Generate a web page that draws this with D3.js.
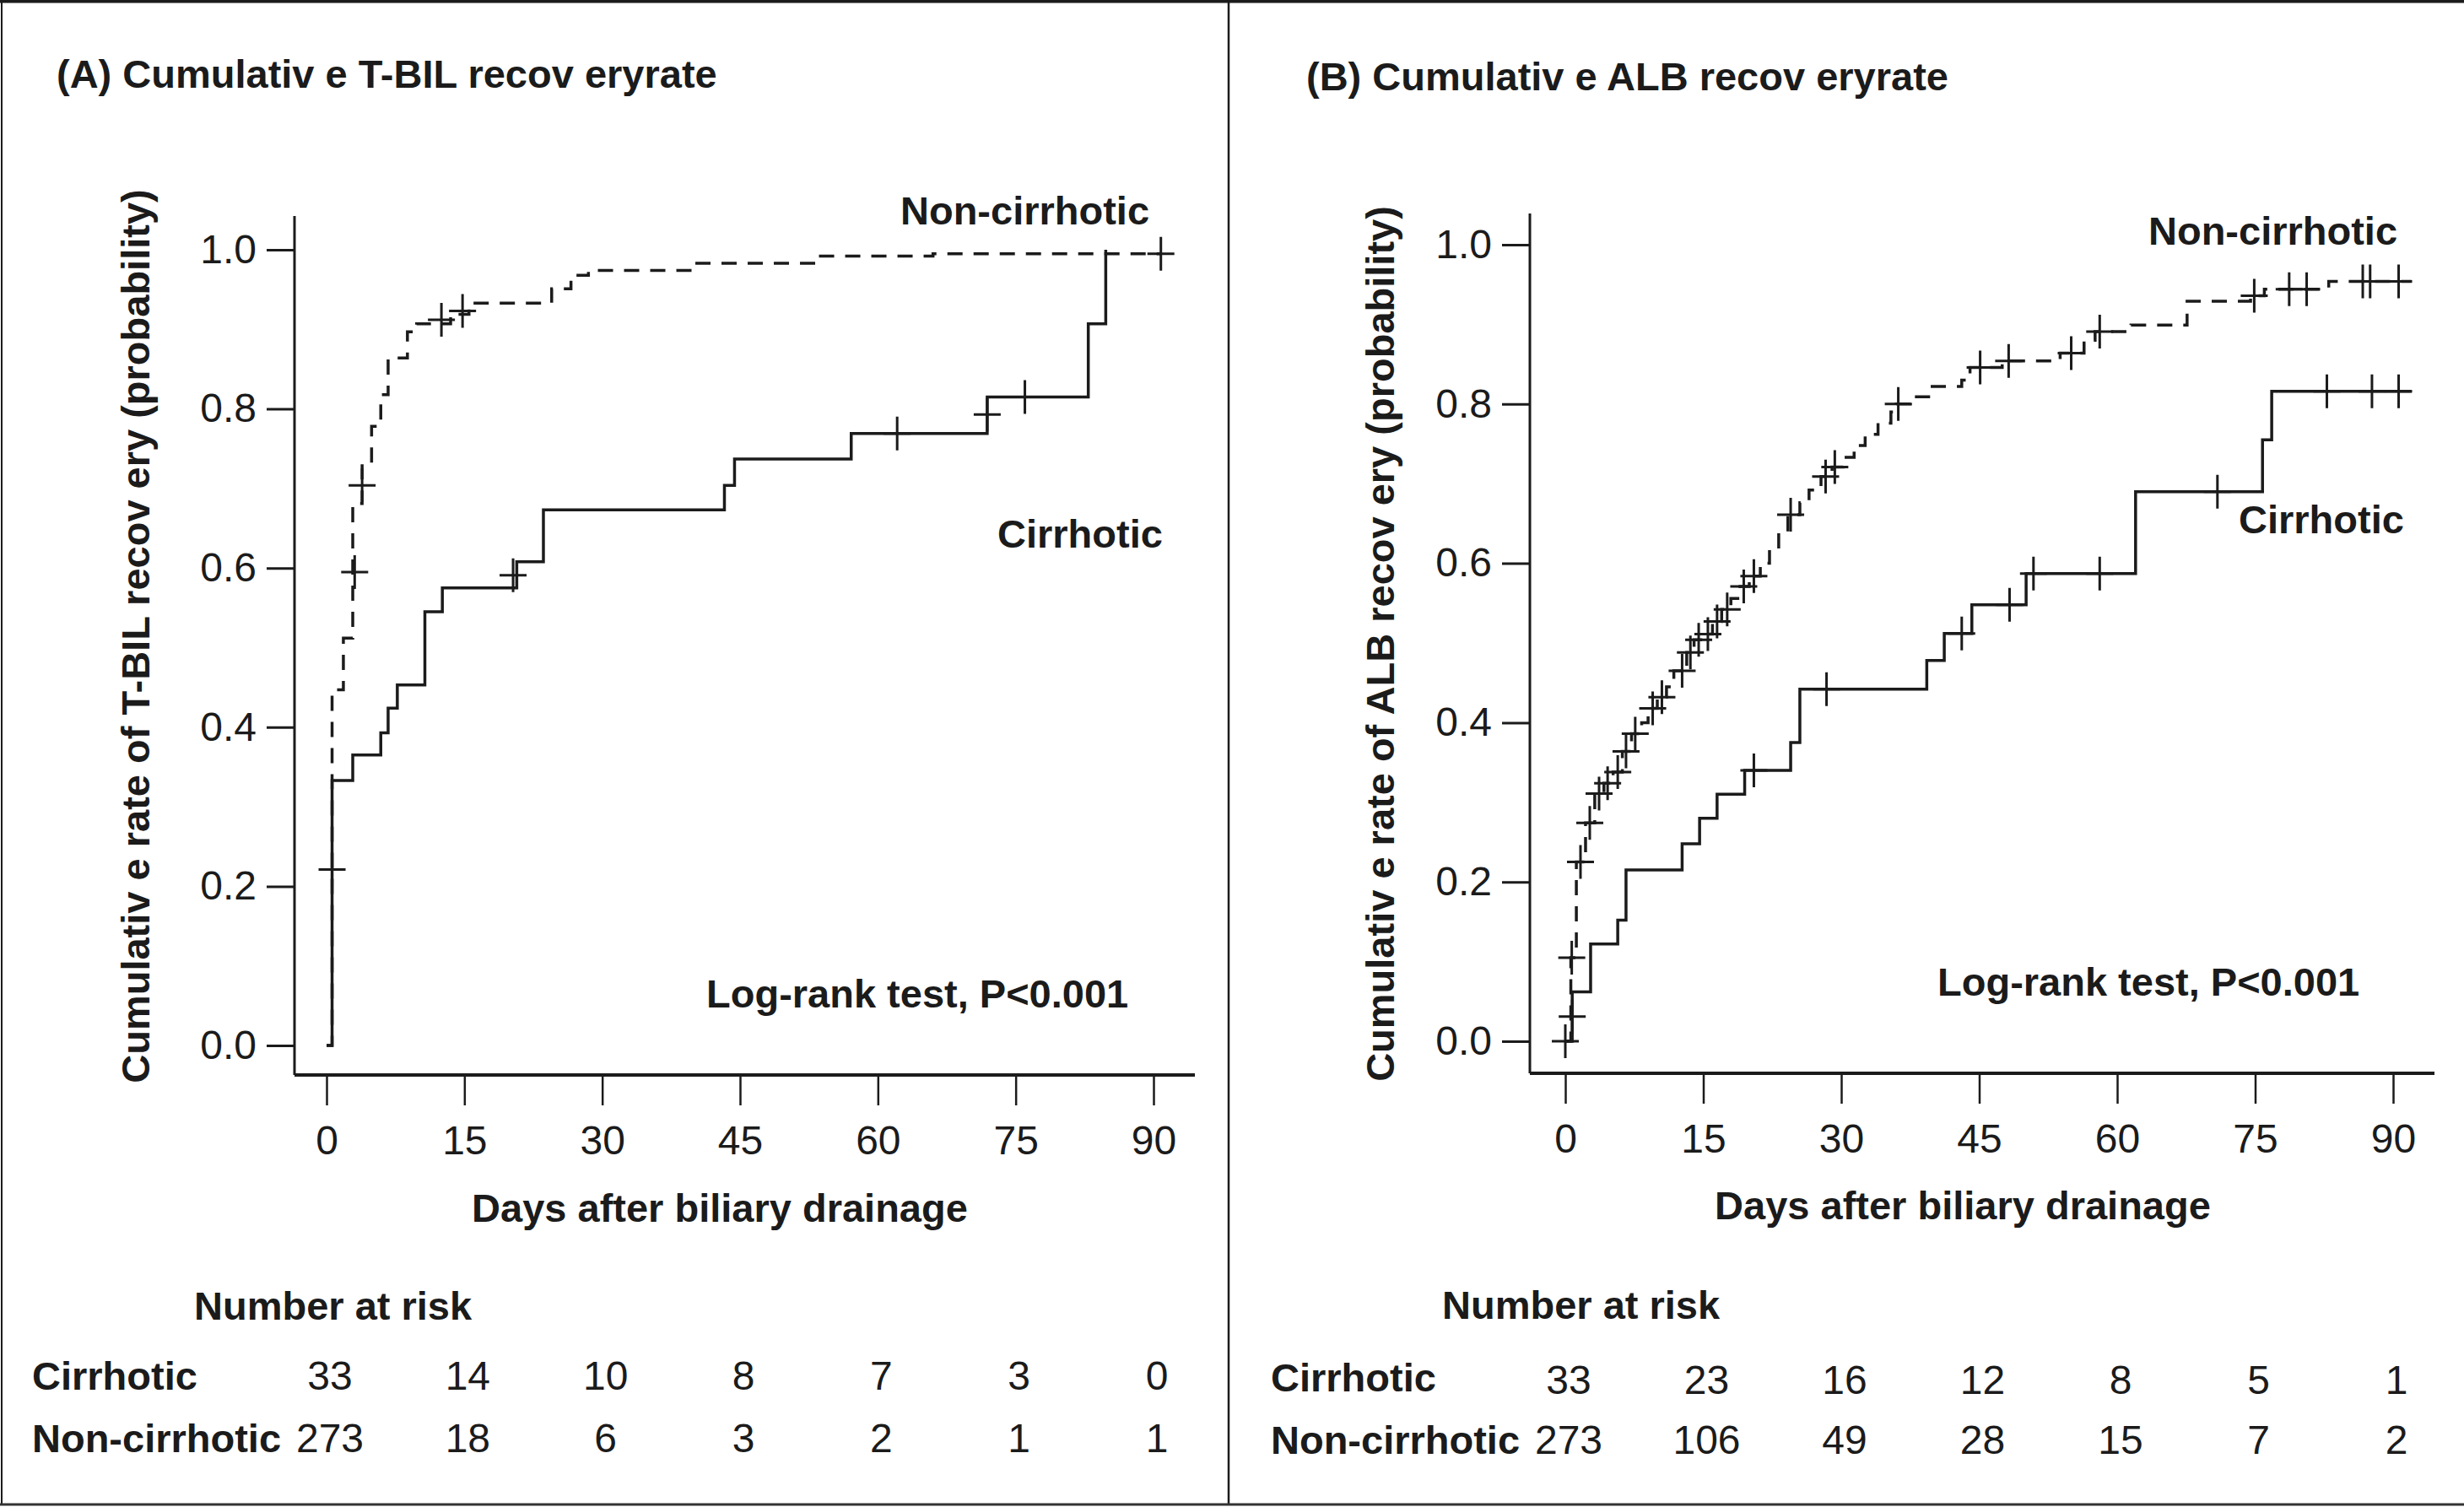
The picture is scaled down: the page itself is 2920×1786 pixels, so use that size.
<!DOCTYPE html>
<html>
<head>
<meta charset="utf-8">
<script src="https://cdn.jsdelivr.net/npm/d3@7"></script>
<style>
  body { margin: 0; background: #fff; }
  svg { display: block; font-family: "Liberation Sans", Arial, Helvetica, sans-serif; }
</style>
</head>
<body>
<svg id="chart" width="2920" height="1786" viewBox="0 0 2920 1786"></svg>
<script>
// ---- data ----
const tickDays = [0, 15, 30, 45, 60, 75, 90];
const yTicks = [0, 0.2, 0.4, 0.6, 0.8, 1.0];
const groups = ["Cirrhotic", "Non-cirrhotic"];

// (A) T-BIL, [day, cumulative rate]
const tbilCirrSteps = [[0,0],[0.6,0.333],[2.85,0.365],[5.9,0.393],[6.7,0.424],[7.7,0.453],[10.7,0.545],
  [12.6,0.575],[20.7,0.608],[23.6,0.673],[43.3,0.704],[44.4,0.737],[57.1,0.769],[71.9,0.815],
  [82.9,0.907],[84.8,1.0],[84.8,1.0]];
const tbilCirrCensor = [[0.6,0.221],[20.3,0.591],[62.1,0.769],[71.9,0.793],[76.0,0.815]];
const tbilNonSteps = [[0,0],[0.6,0.447],[1.83,0.512],[2.85,0.681],[3.87,0.731],[4.9,0.778],[5.9,0.818],
  [6.7,0.864],[8.8,0.897],[9.8,0.907],[13.5,0.919],[15.5,0.933],[24.5,0.951],[26.6,0.968],
  [28.5,0.974],[40.1,0.983],[53.2,0.992],[66.0,0.995],[90.8,0.995]];
const tbilNonCensor = [[3.06,0.595],[3.87,0.704],[12.5,0.912],[14.8,0.923],[90.8,0.995]];
const tbilRiskCirr = [33, 14, 10, 8, 7, 3, 0];
const tbilRiskNon = [273, 18, 6, 3, 2, 1, 1];

// (B) ALB
const albCirrSteps = [[0,0],[0.75,0.062],[2.75,0.122],[5.7,0.152],[6.6,0.215],[12.7,0.248],[14.6,0.280],
  [16.5,0.310],[19.5,0.340],[24.5,0.375],[25.5,0.442],[39.3,0.478],[41.2,0.512],[44.2,0.548],
  [50.1,0.587],[62.0,0.690],[75.8,0.755],[76.8,0.816],[92.0,0.816]];
const albCirrCensor = [[0,0],[0.75,0.031],[20.5,0.340],[28.4,0.442],[43.1,0.512],[48.3,0.548],
  [50.9,0.587],[58.1,0.587],[70.9,0.690],[82.8,0.816],[87.7,0.816],[90.6,0.816]];
const albNonSteps = [[0,0],[0.6,0.105],[1.2,0.225],[2.2,0.274],[3.2,0.311],[4.2,0.324],[5.2,0.338],
  [6.2,0.364],[7.2,0.386],[8.3,0.400],[9.0,0.418],[10.0,0.432],[11.0,0.445],[11.8,0.465],[13.2,0.488],
  [14.0,0.504],[15.0,0.511],[16.0,0.527],[17.0,0.542],[18.0,0.556],[19.0,0.571],[20.0,0.584],
  [21.2,0.600],[22.2,0.618],[23.2,0.640],[24.2,0.661],[25.5,0.676],[26.5,0.692],[27.8,0.709],
  [29.0,0.721],[30.2,0.733],[31.4,0.748],[32.6,0.762],[34.0,0.776],[35.4,0.790],[36.0,0.800],
  [37.5,0.809],[39.5,0.822],[43.1,0.830],[44.0,0.846],[47.5,0.854],[53.8,0.864],[56.4,0.880],
  [57.6,0.891],[61.5,0.899],[67.6,0.929],[74.5,0.936],[76.0,0.944],[83.0,0.954],[92.0,0.954]];
const albNonCensor = [[0.7,0.105],[1.65,0.225],[2.66,0.274],[3.67,0.311],[4.6,0.324],[5.7,0.338],
  [6.6,0.364],[7.6,0.386],[9.5,0.418],[10.5,0.432],[12.7,0.465],[13.6,0.488],[14.5,0.504],[15.5,0.511],
  [16.5,0.527],[17.6,0.542],[19.4,0.571],[20.5,0.584],[24.5,0.661],[28.3,0.709],[29.3,0.721],
  [36.2,0.800],[45.1,0.846],[48.2,0.854],[55.0,0.864],[58.1,0.891],[74.9,0.936],[78.7,0.944],
  [80.6,0.944],[86.7,0.954],[87.5,0.954],[90.6,0.954]];
const albRiskCirr = [33, 23, 16, 12, 8, 5, 1];
const albRiskNon = [273, 106, 49, 28, 15, 7, 2];

const ink = "#1b1b1b";
const svg = d3.select("#chart");

// frame
svg.append("rect").attr("width", 2920).attr("height", 1786).attr("fill", "#fff");
svg.append("line").attr("x1", 0).attr("x2", 2920).attr("y1", 1.5).attr("y2", 1.5)
    .attr("stroke", ink).attr("stroke-width", 4);
svg.append("line").attr("x1", 2).attr("x2", 2).attr("y1", 0).attr("y2", 1784)
    .attr("stroke", ink).attr("stroke-width", 2);
svg.append("line").attr("x1", 1456).attr("x2", 1456).attr("y1", 0).attr("y2", 1784)
    .attr("stroke", ink).attr("stroke-width", 2.5);
svg.append("line").attr("x1", 0).attr("x2", 2920).attr("y1", 1783).attr("y2", 1783)
    .attr("stroke", "#333").attr("stroke-width", 3);

function drawPanel(p) {
  const x = d3.scaleLinear().domain([0, 90]).range(p.xRange);
  const y = d3.scaleLinear().domain([0, 1]).range(p.yRange);
  const g = svg.append("g");

  // title
  g.append("text").attr("x", p.titleX).attr("y", p.titleY)
      .attr("font-size", 47).attr("font-weight", "bold").attr("fill", ink)
      .text(p.title);

  // y axis
  const yAxis = g.append("g").attr("transform", "translate(" + p.axisX + ",0)")
      .call(d3.axisLeft(y).tickValues(yTicks).tickSize(33).tickPadding(12)
        .tickFormat(d3.format(".1f")));
  yAxis.select(".domain").remove();
  yAxis.selectAll(".tick line").attr("stroke", ink).attr("stroke-width", 3);
  yAxis.selectAll(".tick text").attr("font-size", 48).attr("fill", ink)
      .attr("font-family", "Liberation Sans, Arial, sans-serif");
  g.append("line").attr("x1", p.axisX).attr("x2", p.axisX)
      .attr("y1", p.axisTop).attr("y2", p.axisY)
      .attr("stroke", ink).attr("stroke-width", 3);

  // x axis
  const xAxis = g.append("g").attr("transform", "translate(0," + p.axisY + ")")
      .call(d3.axisBottom(x).tickValues(tickDays).tickSize(36).tickPadding(24));
  xAxis.select(".domain").remove();
  xAxis.selectAll(".tick line").attr("stroke", ink).attr("stroke-width", 2.5);
  xAxis.selectAll(".tick text").attr("font-size", 48).attr("fill", ink)
      .attr("font-family", "Liberation Sans, Arial, sans-serif");
  g.append("line").attr("x1", p.axisX).attr("x2", p.axisRight)
      .attr("y1", p.axisY).attr("y2", p.axisY)
      .attr("stroke", ink).attr("stroke-width", 4);

  // axis titles
  g.append("text")
      .attr("transform", "translate(" + p.yLabelX + "," + p.yLabelY + ") rotate(-90)")
      .attr("text-anchor", "middle").attr("font-size", 47).attr("font-weight", "bold")
      .attr("fill", ink).text(p.yLabel);
  g.append("text").attr("x", p.xLabelX).attr("y", p.xLabelY)
      .attr("text-anchor", "middle").attr("font-size", 47).attr("font-weight", "bold")
      .attr("fill", ink).text("Days after biliary drainage");

  // curves
  const line = d3.line().x(d => x(d[0])).y(d => y(d[1])).curve(d3.curveStepAfter);
  g.append("path").datum(p.nonSteps).attr("d", line).attr("fill", "none")
      .attr("stroke", ink).attr("stroke-width", 3.5).attr("stroke-dasharray", "18,13");
  g.append("path").datum(p.cirrSteps).attr("d", line).attr("fill", "none")
      .attr("stroke", ink).attr("stroke-width", 3.5);

  // censor marks
  const plus = "M-16,0H16M0,-20V20";
  g.selectAll(".cens").data(p.cirrCensor.concat(p.nonCensor)).join("path")
      .attr("transform", d => "translate(" + x(d[0]) + "," + y(d[1]) + ")")
      .attr("d", plus).attr("stroke", ink).attr("stroke-width", 3).attr("fill", "none");

  // curve labels
  const lab = (t, xx, yy) => g.append("text").attr("x", xx).attr("y", yy)
      .attr("font-size", 47).attr("font-weight", "bold").attr("fill", ink).text(t);
  lab("Non-cirrhotic", p.nonLabel[0], p.nonLabel[1]);
  lab("Cirrhotic", p.cirrLabel[0], p.cirrLabel[1]);
  lab("Log-rank test, P<0.001", p.logrank[0], p.logrank[1]);

  // number at risk table
  lab("Number at risk", p.riskTitle[0], p.riskTitle[1]);
  const rows = [p.riskCirr, p.riskNon];
  rows.forEach(function(vals, i) {
    lab(groups[i], p.rowLabelX, p.rowY[i]);
    g.selectAll(".risk" + i).data(vals).join("text")
        .attr("x", (d, j) => x(tickDays[j]) + p.riskShift)
        .attr("y", p.rowY[i] + (i === 0 ? p.cirrNumDrop : 0))
        .attr("text-anchor", "middle").attr("font-size", 48).attr("fill", ink)
        .text(d => d);
  });
}

drawPanel({
  title: "(A) Cumulativ e T-BIL recov eryrate", titleX: 67, titleY: 104,
  xRange: [387, 1367], yRange: [1239, 296],
  axisX: 349, axisY: 1274, axisTop: 256, axisRight: 1416,
  yLabel: "Cumulativ e rate of T-BIL  recov ery (probability)", yLabelX: 177, yLabelY: 754,
  xLabelX: 853, xLabelY: 1448,
  cirrSteps: tbilCirrSteps, cirrCensor: tbilCirrCensor,
  nonSteps: tbilNonSteps, nonCensor: tbilNonCensor,
  nonLabel: [1067, 266], cirrLabel: [1182, 649], logrank: [837, 1194],
  riskTitle: [230, 1564], rowLabelX: 38, rowY: [1647, 1721], cirrNumDrop: 0, riskShift: 4,
  riskCirr: tbilRiskCirr, riskNon: tbilRiskNon
});

drawPanel({
  title: "(B) Cumulativ e ALB recov eryrate", titleX: 1548, titleY: 107,
  xRange: [1855, 2836], yRange: [1234, 290],
  axisX: 1813, axisY: 1272, axisTop: 253, axisRight: 2885,
  yLabel: "Cumulativ e rate of ALB  recov ery (probability)", yLabelX: 1652, yLabelY: 763,
  xLabelX: 2326, xLabelY: 1445,
  cirrSteps: albCirrSteps, cirrCensor: albCirrCensor,
  nonSteps: albNonSteps, nonCensor: albNonCensor,
  nonLabel: [2546, 290], cirrLabel: [2653, 632], logrank: [2296, 1180],
  riskTitle: [1709, 1563], rowLabelX: 1506, rowY: [1649, 1723], cirrNumDrop: 3, riskShift: 4,
  riskCirr: albRiskCirr, riskNon: albRiskNon
});
</script>
</body>
</html>
